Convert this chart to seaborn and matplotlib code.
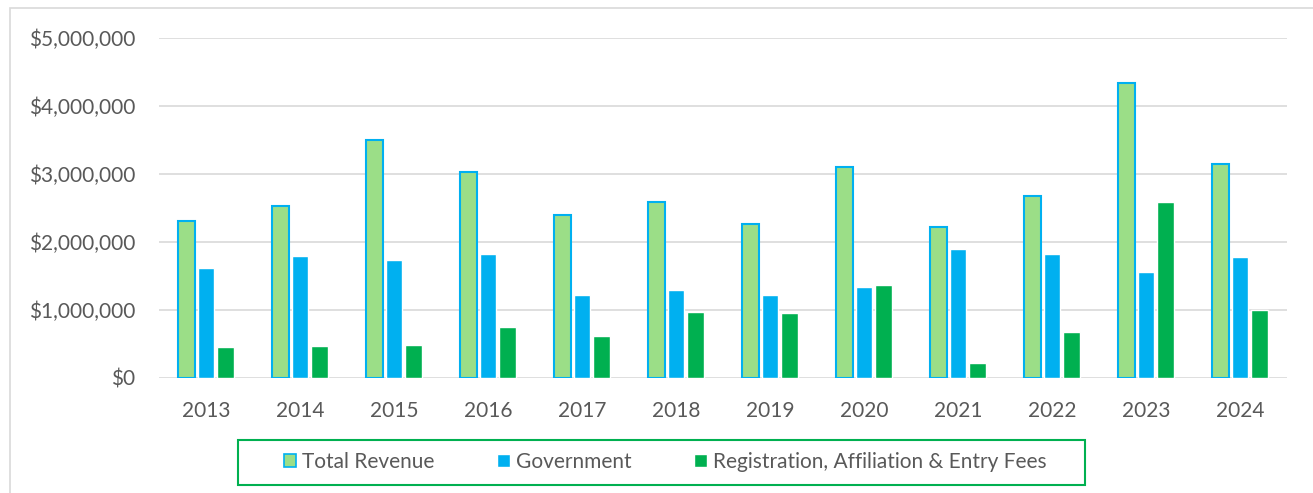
import numpy as np
import pandas as pd
import seaborn as sns
from matplotlib import pyplot as plt
from matplotlib.patches import Rectangle
from matplotlib.ticker import FuncFormatter, MultipleLocator

years = ['2013', '2014', '2015', '2016', '2017', '2018',
         '2019', '2020', '2021', '2022', '2023', '2024']
total_revenue = [2310000, 2530000, 3500000, 3020000, 2400000, 2590000,
                 2260000, 3100000, 2210000, 2670000, 4340000, 3140000]
government = [1620000, 1790000, 1730000, 1820000, 1220000, 1290000,
              1220000, 1340000, 1890000, 1820000, 1560000, 1770000]
registration = [450000, 470000, 480000, 750000, 620000, 970000,
                950000, 1360000, 220000, 670000, 2580000, 1000000]
series_names = ['Total Revenue', 'Government', 'Registration, Affiliation & Entry Fees']

df = pd.DataFrame({'Year': years,
                   series_names[0]: total_revenue,
                   series_names[1]: government,
                   series_names[2]: registration})
df = df.melt(id_vars='Year', var_name='Series', value_name='Value')

sns.set_style('white')
plt.rcParams['font.family'] = ['Lato', 'DejaVu Sans']

colors = ['#9BDE87', '#00B0F0', '#00B050']
text_color = '#595959'
grid_color = '#D9D9D9'

fig = plt.figure(figsize=(13.13, 4.93), dpi=100)
ax = fig.add_axes([159 / 1313, 1 - 377.7 / 493, 1128 / 1313, 340 / 493])

sns.barplot(data=df, x='Year', y='Value', hue='Series', palette=colors,
            saturation=1, width=0.63, gap=0.15, ax=ax, legend=True)

# outline on the total revenue bars
for bar in ax.containers[0]:
    bar.set_edgecolor('#00B0F0')
    bar.set_linewidth(1.5)

ax.set_ylim(0, 5000000)
ax.set_xlim(-0.5, 11.5)
ax.yaxis.set_major_locator(MultipleLocator(1000000))
ax.yaxis.set_major_formatter(FuncFormatter(lambda v, p: '${:,.0f}'.format(v)))
ax.set_xlabel('')
ax.set_ylabel('')
ax.grid(axis='y', color=grid_color, linewidth=1.2)
ax.set_axisbelow(True)
sns.despine(ax=ax, left=True, bottom=True)
ax.tick_params(axis='y', length=0, pad=17, labelsize=15, labelcolor=text_color)
ax.tick_params(axis='x', length=0, pad=17, labelsize=15, labelcolor=text_color)

handles, labels = ax.get_legend_handles_labels()
handles[0].set_edgecolor('#00B0F0')
handles[0].set_linewidth(1.2)
ax.get_legend().remove()
fig.legend(handles, labels, loc='center', bbox_to_anchor=(665 / 1313, 1 - 462 / 493),
           ncol=3, frameon=False, fontsize=15, labelcolor=text_color,
           handlelength=0.6, handleheight=0.6, handletextpad=0.3, columnspacing=3.0)

# legend frame and outer chart border
fig.patches.append(Rectangle((238 / 1313, 1 - 485 / 493), 847 / 1313, 45 / 493,
                             transform=fig.transFigure, fill=False,
                             edgecolor='#00B050', linewidth=1.5))
fig.patches.append(Rectangle((10 / 1313, -0.05), 1.1, 1 - 8 / 493 + 0.05,
                             transform=fig.transFigure, fill=False,
                             edgecolor=grid_color, linewidth=1.2))

fig.savefig('out.png', dpi=100)
